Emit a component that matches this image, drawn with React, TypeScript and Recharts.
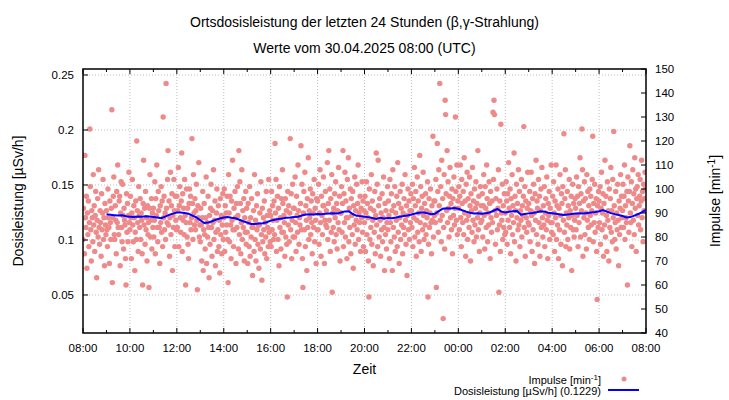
import React from "react";
import {
  ComposedChart,
  Scatter,
  Line,
  XAxis,
  YAxis,
  ReferenceLine,
  ReferenceArea,
} from "recharts";

// ---------- DATA ----------
// Impulses [min^-1], readings spread evenly over each hour starting at 08:00
const impulsesByHour: number[][] = [
  // 08:00
  [79, 92, 114, 73, 114, 88, 84, 97, 67, 90, 81, 95, 76, 86, 125, 101, 83, 70, 91, 88, 78, 106, 85, 93,
   74, 89, 99, 82, 63, 87, 96, 80, 108, 84, 77, 91, 86, 72, 98, 83, 90, 104, 79, 88, 68, 94, 85, 81],
  // 09:00
  [91, 83, 76, 100, 88, 84, 69, 95, 86, 79, 92, 133, 61, 88, 97, 105, 81, 79, 93, 87, 73, 99, 86, 110,
   84, 81, 95, 97, 68, 90, 103, 84, 78, 102, 89, 75, 92, 87, 85, 71, 60, 98, 82, 94, 78, 89, 107, 86],
  // 10:00
  [83, 97, 88, 71, 90, 104, 85, 78, 93, 88, 66, 82, 95, 79, 120, 91, 86, 74, 101, 89, 84, 96, 79, 90,
   87, 73, 60, 94, 112, 85, 92, 77, 99, 83, 88, 70, 93, 81, 86, 59, 92, 106, 80, 87, 96, 75, 90, 84],
  // 11:00
  [92, 80, 87, 103, 73, 96, 89, 110, 84, 78, 99, 91, 84, 69, 93, 86, 101, 82, 95, 76, 130, 88, 97, 83,
   90, 79, 144, 92, 86, 104, 116, 85, 95, 72, 88, 107, 81, 93, 98, 66, 89, 84, 104, 91, 76, 97, 87, 83],
  // 12:00
  [97, 84, 91, 109, 76, 93, 101, 88, 82, 95, 115, 74, 98, 87, 92, 81, 104, 89, 60, 86, 100, 80, 92, 77,
   71, 94, 100, 86, 97, 83, 88, 121, 94, 79, 106, 90, 85, 96, 83, 91, 102, 87, 58, 93, 88, 111, 80, 85],
  // 13:00
  [78, 92, 85, 70, 88, 99, 66, 83, 94, 81, 75, 88, 105, 69, 86, 80, 97, 84, 63, 89, 77, 92, 102, 84,
   72, 91, 86, 108, 79, 87, 95, 68, 82, 90, 100, 74, 83, 93, 76, 87, 65, 96, 81, 89, 73, 85, 98, 79],
  // 14:00
  [88, 100, 74, 93, 82, 90, 85, 97, 79, 61, 106, 90, 78, 97, 85, 71, 95, 87, 112, 83, 76, 92, 83, 99,
   88, 69, 94, 84, 101, 89, 75, 116, 81, 103, 94, 73, 86, 108, 79, 91, 84, 96, 70, 88, 82, 99, 77, 92],
  // 15:00
  [82, 69, 94, 86, 76, 101, 72, 88, 80, 96, 84, 64, 84, 91, 74, 106, 79, 87, 70, 93, 83, 98, 77, 85,
   67, 85, 90, 75, 103, 81, 62, 92, 78, 88, 83, 95, 73, 86, 80, 99, 71, 89, 84, 76, 104, 82, 91, 78],
  // 16:00
  [89, 76, 99, 83, 93, 87, 79, 95, 81, 119, 90, 104, 74, 87, 97, 79, 92, 68, 101, 84, 88, 75, 96, 82,
   108, 94, 82, 89, 86, 72, 96, 80, 91, 77, 55, 99, 85, 93, 78, 90, 121, 83, 98, 71, 87, 102, 80, 92],
  // 17:00
  [92, 80, 105, 86, 74, 97, 89, 82, 110, 91, 77, 88, 85, 94, 118, 83, 102, 71, 59, 90, 99, 83, 107, 76,
   93, 87, 66, 96, 84, 113, 79, 91, 88, 100, 81, 95, 86, 73, 98, 90, 84, 104, 78, 92, 87, 69, 96, 83],
  // 18:00
  [95, 83, 102, 77, 90, 108, 86, 72, 97, 89, 81, 93, 105, 93, 69, 87, 99, 85, 91, 84, 111, 79, 94, 116,
   87, 100, 74, 96, 82, 106, 57, 90, 84, 92, 78, 98, 88, 103, 81, 94, 75, 91, 86, 109, 83, 97, 70, 90],
  // 19:00
  [90, 101, 82, 94, 116, 76, 98, 86, 107, 80, 95, 88, 71, 104, 88, 113, 78, 92, 84, 100, 73, 96, 89, 81,
   99, 67, 93, 85, 105, 77, 91, 87, 102, 83, 94, 110, 79, 90, 86, 97, 74, 92, 88, 103, 82, 95, 76, 91],
  // 20:00
  [86, 97, 74, 90, 103, 81, 94, 88, 70, 55, 100, 79, 92, 84, 106, 77, 95, 87, 68, 91, 82, 99, 73, 89,
   115, 85, 102, 76, 112, 93, 80, 96, 87, 72, 90, 83, 98, 78, 88, 105, 84, 66, 94, 81, 91, 75, 86, 101],
  // 21:00
  [83, 95, 89, 71, 104, 86, 78, 98, 91, 66, 108, 84, 93, 80, 101, 74, 90, 87, 97, 76, 111, 82, 94, 69,
   88, 99, 79, 92, 85, 102, 73, 90, 84, 96, 81, 106, 87, 77, 93, 64, 89, 100, 83, 95, 79, 91, 86, 98],
  // 22:00
  [91, 84, 102, 76, 96, 88, 109, 80, 93, 99, 72, 87, 105, 82, 95, 90, 78, 114, 86, 101, 74, 92, 97, 83,
   107, 89, 79, 94, 85, 98, 81, 91, 88, 103, 55, 77, 96, 84, 90, 100, 86, 73, 93, 87, 122, 80, 95, 89],
  // 23:00
  [95, 86, 104, 59, 90, 119, 99, 82, 108, 93, 144, 87, 101, 78, 112, 89, 96, 46, 84, 106, 75, 137, 131, 98,
   91, 116, 86, 103, 92, 80, 97, 109, 88, 94, 83, 100, 73, 96, 89, 105, 85, 92, 130, 99, 87, 110, 81, 95],
  // 00:00
  [92, 101, 83, 97, 110, 88, 76, 104, 94, 86, 99, 81, 113, 90, 95, 72, 102, 87, 107, 79, 96, 89, 84, 105,
   93, 70, 98, 91, 82, 109, 87, 95, 78, 100, 85, 92, 103, 80, 94, 88, 116, 83, 97, 74, 90, 101, 86, 93],
  // 01:00
  [87, 98, 80, 93, 106, 89, 75, 101, 92, 84, 110, 96, 78, 90, 85, 103, 94, 71, 99, 88, 82, 95, 86, 132,
   104, 137, 131, 91, 77, 96, 89, 100, 83, 92, 108, 57, 85, 95, 74, 127, 90, 87, 102, 79, 93, 84, 98, 81],
  // 02:00
  [90, 82, 103, 95, 77, 98, 87, 111, 92, 84, 100, 73, 96, 89, 106, 81, 93, 86, 115, 78, 97, 91, 70, 102,
   88, 94, 83, 108, 85, 99, 76, 91, 87, 104, 80, 93, 89, 97, 126, 84, 101, 72, 95, 88, 82, 92, 107, 86],
  // 03:00
  [94, 85, 99, 78, 91, 107, 89, 74, 96, 83, 102, 90, 69, 98, 87, 112, 81, 95, 92, 77, 104, 86, 97, 72,
   91, 100, 84, 109, 88, 80, 93, 85, 101, 76, 90, 96, 83, 105, 87, 71, 94, 89, 99, 79, 92, 86, 110, 82],
  // 04:00
  [86, 97, 81, 103, 90, 74, 95, 88, 110, 79, 93, 85, 100, 71, 92, 83, 106, 89, 77, 98, 94, 68, 101, 87,
   123, 82, 96, 108, 76, 90, 85, 99, 79, 93, 88, 104, 75, 91, 84, 97, 66, 89, 102, 83, 94, 80, 87, 96],
  // 05:00
  [92, 83, 105, 89, 97, 76, 101, 86, 94, 113, 80, 98, 91, 125, 108, 72, 95, 88, 103, 81, 96, 90, 75, 106,
   87, 99, 84, 93, 79, 100, 89, 97, 85, 91, 104, 122, 78, 94, 86, 102, 82, 90, 96, 74, 54, 93, 84, 99],
  // 06:00
  [95, 86, 101, 77, 92, 107, 83, 90, 98, 72, 94, 85, 112, 80, 97, 89, 74, 103, 87, 91, 70, 100, 84, 96,
   109, 82, 91, 78, 104, 88, 124, 93, 79, 86, 99, 75, 90, 83, 102, 87, 68, 95, 81, 92, 106, 84, 97, 88],
  // 07:00
  [91, 102, 84, 97, 110, 79, 93, 88, 86, 99, 60, 105, 95, 82, 99, 118, 90, 86, 103, 76, 94, 108, 87, 98,
   81, 113, 92, 100, 74, 96, 101, 89, 106, 85, 93, 97, 104, 83, 95, 112, 88, 99, 78, 102, 91, 96, 107, 100],
];

// Dose rate [µSv/h] (moving average), every 10 minutes from 09:00 to 08:00
const DOSE_START_MIN = 60;
const DOSE_STEP_MIN = 10;
const doseValues: number[] = [
  0.1234, 0.123, 0.1226, 0.1222, 0.1224, 0.1216, 0.1212, 0.1208, 0.1214, 0.1211,
  0.1216, 0.1214, 0.121, 0.1205, 0.1198, 0.1212, 0.1228, 0.124, 0.125, 0.1249,
  0.1245, 0.1238, 0.1222, 0.1205, 0.118, 0.1155, 0.1158, 0.117, 0.1185, 0.1195,
  0.1204, 0.1209, 0.1203, 0.1198, 0.1184, 0.117, 0.1158, 0.1146, 0.1145, 0.115,
  0.1153, 0.1162, 0.1176, 0.1184, 0.119, 0.1196, 0.1202, 0.1205, 0.1209, 0.1212,
  0.1222, 0.1232, 0.1235, 0.1232, 0.1236, 0.1233, 0.1238, 0.1241, 0.1244, 0.124,
  0.125, 0.126, 0.1262, 0.1236, 0.122, 0.1217, 0.1212, 0.1208, 0.12, 0.1192,
  0.1203, 0.1196, 0.1199, 0.1197, 0.1204, 0.1212, 0.1218, 0.1222, 0.1232, 0.124,
  0.1248, 0.1252, 0.1244, 0.1235, 0.1238, 0.1262, 0.1285, 0.1289, 0.1286, 0.129,
  0.1284, 0.127, 0.1258, 0.1248, 0.124, 0.1242, 0.1238, 0.1244, 0.125, 0.1266,
  0.1282, 0.1258, 0.125, 0.1256, 0.1262, 0.1264, 0.123, 0.1236, 0.1242, 0.1245,
  0.1252, 0.1262, 0.1258, 0.1248, 0.1243, 0.1238, 0.1232, 0.1227, 0.1232, 0.1236,
  0.124, 0.1244, 0.1242, 0.1246, 0.125, 0.1254, 0.1262, 0.1273, 0.1258, 0.1244,
  0.1235, 0.1228, 0.1218, 0.1205, 0.1208, 0.1222, 0.1236, 0.1254, 0.1273,
];

const xTicks: number[] = [0, 60, 120, 180, 240, 300, 360, 420, 480, 540, 600, 660, 720, 780, 840, 900, 960, 1020, 1080, 1140, 1200, 1260, 1320, 1380, 1440];
const xGrid: number[] = [120, 240, 360, 480, 600, 720, 840, 960, 1080, 1200, 1320];
const leftTicks: number[] = [0.05, 0.1, 0.15, 0.2, 0.25];
const rightTicks: number[] = [40, 50, 60, 70, 80, 90, 100, 110, 120, 130, 140, 150];
const START_HOUR = 8;
const MEAN_DOSE = "0.1229";

// ---------- LAYOUT ----------
const W = 729;
const H = 400;
const PLOT_TOP = 69;
const PLOT_BOTTOM = 333;
const PLOT_H = PLOT_BOTTOM - PLOT_TOP;
const MARGIN = { top: PLOT_TOP, right: 0, bottom: 37, left: 0 };
const X_DOMAIN: [number, number] = [0, 1440];
const LEFT_DOMAIN: [number, number] = [0.01545, 0.25545];
const RIGHT_DOMAIN: [number, number] = [40, 150];
const FONT = "'Liberation Sans', Arial, Helvetica, sans-serif";
const DOT_COLOR = "#ee8a8a";
const LINE_COLOR = "#0000ff";
const GRID_COLOR = "#bdbdbd";

const impulseData = impulsesByHour.flatMap((row, h) =>
  row.map((v, j) => ({ t: h * 60 + (j * 60) / row.length, imp: v }))
);
const doseData = doseValues.map((v, i) => ({ t: DOSE_START_MIN + i * DOSE_STEP_MIN, dose: v }));

const fmtTime = (m: number) => {
  const h = (START_HOUR + Math.round(m / 60)) % 24;
  return `${h < 10 ? "0" : ""}${h}:00`;
};

const XTick = (props: any) => {
  const { x, y, payload } = props;
  const v = payload.value as number;
  const major = v % 120 === 0;
  const len = major ? 5 : 3;
  return (
    <g>
      <line x1={x} y1={y} x2={x} y2={y - len} stroke="#000" strokeWidth={1} />
      <line x1={x} y1={y - PLOT_H} x2={x} y2={y - PLOT_H + len} stroke="#000" strokeWidth={1} />
      {major && (
        <text x={x} y={y + 19} textAnchor="middle" fontSize={11.5} fontFamily={FONT} fill="#000">
          {fmtTime(v)}
        </text>
      )}
    </g>
  );
};

const LeftTick = (props: any) => {
  const { x, y, payload } = props;
  return (
    <g>
      <line x1={x} y1={y} x2={x + 5} y2={y} stroke="#000" strokeWidth={1} />
      <text x={x - 9} y={y + 4} textAnchor="end" fontSize={11.5} fontFamily={FONT} fill="#000">
        {String(payload.value)}
      </text>
    </g>
  );
};

const RightTick = (props: any) => {
  const { x, y, payload } = props;
  return (
    <g>
      <line x1={x} y1={y} x2={x - 5} y2={y} stroke="#000" strokeWidth={1} />
      <text x={x + 9} y={y + 4} textAnchor="start" fontSize={11.5} fontFamily={FONT} fill="#000">
        {String(payload.value)}
      </text>
    </g>
  );
};

const Dot = (props: any) => {
  const { cx, cy } = props;
  if (cx == null || cy == null) return <g />;
  return <circle cx={cx} cy={cy} r={2.7} fill={DOT_COLOR} />;
};

export default function App() {
  return (
    <div style={{ position: "fixed", left: 0, top: 0, width: W, height: H, background: "#fff" }}>
      {/* Layer 1: grid, axes, impulse dots */}
      <div style={{ position: "absolute", left: 0, top: 0 }}>
        <ComposedChart width={W} height={H} margin={MARGIN}>
          <XAxis
            xAxisId="x"
            dataKey="t"
            type="number"
            domain={X_DOMAIN}
            ticks={xTicks}
            interval={0}
            allowDataOverflow
            tick={XTick}
            tickLine={false}
            axisLine={false}
            tickSize={0}
            tickMargin={0}
            height={30}
          />
          <YAxis
            yAxisId="left"
            orientation="left"
            type="number"
            domain={LEFT_DOMAIN}
            ticks={leftTicks}
            interval={0}
            allowDataOverflow
            tick={LeftTick}
            tickLine={false}
            axisLine={false}
            tickSize={0}
            tickMargin={0}
            width={83}
          />
          <YAxis
            yAxisId="right"
            orientation="right"
            type="number"
            domain={RIGHT_DOMAIN}
            ticks={rightTicks}
            interval={0}
            allowDataOverflow
            tick={RightTick}
            tickLine={false}
            axisLine={false}
            tickSize={0}
            tickMargin={0}
            width={83}
          />
          {xGrid.map((g) => (
            <ReferenceLine key={`gx${g}`} xAxisId="x" yAxisId="left" x={g} stroke={GRID_COLOR} strokeDasharray="1 2" />
          ))}
          {leftTicks.map((g) => (
            <ReferenceLine key={`gy${g}`} xAxisId="x" yAxisId="left" y={g} stroke={GRID_COLOR} strokeDasharray="1 2" />
          ))}
          <Scatter
            xAxisId="x"
            yAxisId="right"
            data={impulseData}
            dataKey="imp"
            shape={Dot}
            isAnimationActive={false}
          />
        </ComposedChart>
      </div>
      {/* Layer 2: dose-rate line and frame on top */}
      <div style={{ position: "absolute", left: 0, top: 0 }}>
        <ComposedChart width={W} height={H} margin={MARGIN}>
          <XAxis
            xAxisId="x"
            dataKey="t"
            type="number"
            domain={X_DOMAIN}
            allowDataOverflow
            tick={false}
            tickLine={false}
            axisLine={false}
            height={30}
          />
          <YAxis
            yAxisId="left"
            orientation="left"
            type="number"
            domain={LEFT_DOMAIN}
            allowDataOverflow
            tick={false}
            tickLine={false}
            axisLine={false}
            width={83}
          />
          <YAxis
            yAxisId="right"
            orientation="right"
            type="number"
            domain={RIGHT_DOMAIN}
            allowDataOverflow
            tick={false}
            tickLine={false}
            axisLine={false}
            width={83}
          />
          <Line
            xAxisId="x"
            yAxisId="left"
            data={doseData}
            dataKey="dose"
            type="linear"
            stroke={LINE_COLOR}
            strokeWidth={2}
            dot={false}
            activeDot={false}
            isAnimationActive={false}
          />
          <ReferenceArea
            xAxisId="x"
            yAxisId="left"
            x1={X_DOMAIN[0]}
            x2={X_DOMAIN[1]}
            y1={LEFT_DOMAIN[0]}
            y2={LEFT_DOMAIN[1]}
            fill="none"
            fillOpacity={0}
            stroke="#000"
            strokeWidth={1.5}
            ifOverflow="visible"
          />
        </ComposedChart>
      </div>
      <svg
        width={W}
        height={H}
        style={{ position: "absolute", left: 0, top: 0, pointerEvents: "none" }}
        fontFamily={FONT}
      >
        <text x={364.5} y={27} textAnchor="middle" fontSize={14} fill="#000">
          Ortsdosisleistung der letzten 24 Stunden (β,γ-Strahlung)
        </text>
        <text x={364.5} y={53} textAnchor="middle" fontSize={14} fill="#000">
          Werte vom 30.04.2025 08:00 (UTC)
        </text>
        <text transform="translate(23,201) rotate(-90)" textAnchor="middle" fontSize={14} fill="#000">
          Dosisleistung [µSv/h]
        </text>
        <text transform="translate(720,201) rotate(-90)" textAnchor="middle" fontSize={14} fill="#000">
          Impulse [min<tspan dy={-5} fontSize={10}>-1</tspan><tspan dy={5}>]</tspan>
        </text>
        <text x={364.5} y={374} textAnchor="middle" fontSize={14} fill="#000">
          Zeit
        </text>
        <text x={601} y={384} textAnchor="end" fontSize={11} fill="#000">
          Impulse [min<tspan dy={-4} fontSize={8}>-1</tspan><tspan dy={4}>]</tspan>
        </text>
        <circle cx={624} cy={379} r={2.5} fill={DOT_COLOR} />
        <text x={601} y={395} textAnchor="end" fontSize={11} fill="#000">
          {`Dosisleistung [µSv/h] (${MEAN_DOSE})`}
        </text>
        <line x1={608} y1={390} x2={639} y2={390} stroke={LINE_COLOR} strokeWidth={2} />
      </svg>
    </div>
  );
}
